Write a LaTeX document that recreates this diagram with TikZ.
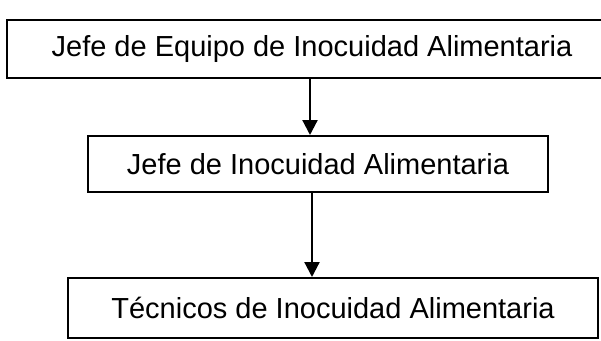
\documentclass[tikz,border=0pt]{standalone}
\usepackage{fontspec}
\setmainfont{Liberation Sans}
\usetikzlibrary{arrows.meta}
\begin{document}
\begin{tikzpicture}[x=1pt,y=1pt,
  orgbox/.style={draw=black, line width=2pt, inner sep=0pt, align=center,
    font=\fontsize{29}{34}\selectfont},
  arr/.style={line width=2.2pt, -{Triangle[length=15pt,width=15pt]}}]
\useasboundingbox (0,0) rectangle (601,-340);
\fill[white] (0,0) rectangle (601,-340);
\begin{scope}
\clip (0,0) rectangle (601,-340);
\node[orgbox, minimum width=610pt, minimum height=58pt] (box1) at (312,-49) {Jefe de Equipo de Inocuidad Alimentaria};
\end{scope}
\node[orgbox, minimum width=460pt, minimum height=56pt] (box2) at (318,-164) {Jefe de Inocuidad Alimentaria};
\node[orgbox, minimum width=530pt, minimum height=60pt] (box3) at (333,-308) {Técnicos de Inocuidad Alimentaria};
\coordinate (a1) at (310,0);
\coordinate (a2) at (312,0);
\draw[arr] (a1 |- box1.south) -- (a1 |- box2.north);
\draw[arr] (a2 |- box2.south) -- (a2 |- box3.north);
\end{tikzpicture}
\end{document}
